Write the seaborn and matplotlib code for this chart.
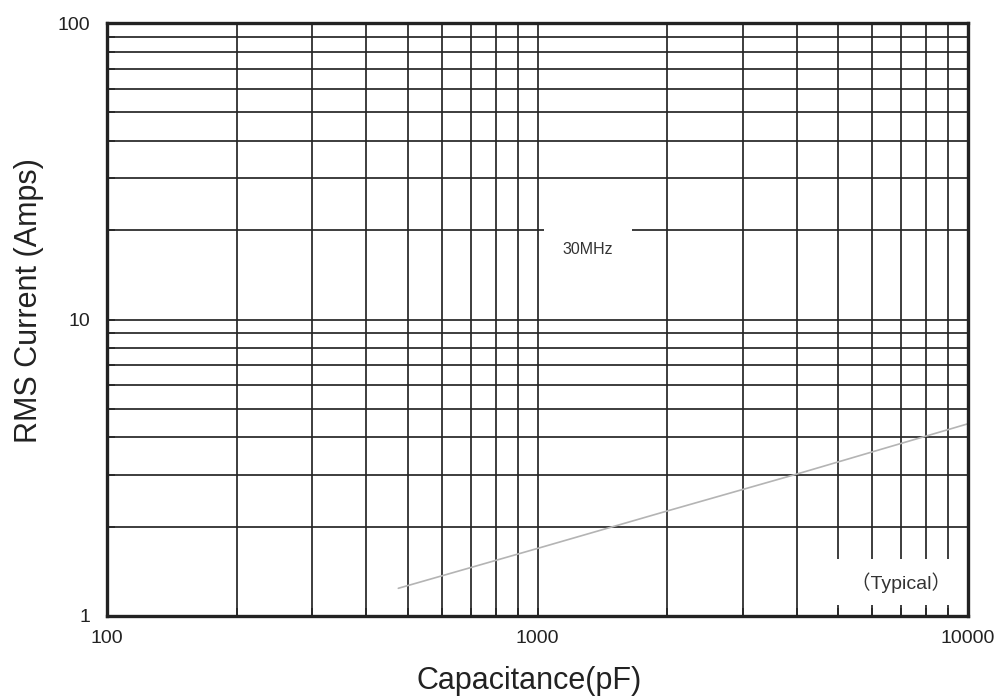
import matplotlib
matplotlib.use("Agg")
import matplotlib.pyplot as plt
import seaborn as sns
import pandas as pd
from matplotlib.ticker import LogLocator, FixedFormatter, FixedLocator, NullFormatter

# ---- data ----
capacitance_pf = [475, 1000, 2000, 4000, 10000]
rms_current_a = [1.24, 1.69, 2.26, 3.01, 4.45]
x_tick_values = [100, 1000, 10000]
x_tick_labels = ["100", "1000", "10000"]
y_tick_values = [1, 10, 100]
y_tick_labels = ["1", "10", "100"]
freq_label = "30MHz"
freq_label_pos = (1310, 17.2)
note_label = "（Typical）"
note_label_pos = (7000, 1.30)

sns.set_theme(style="white")
plt.rcParams['font.family'] = ['Liberation Sans', 'Noto Sans CJK SC', 'DejaVu Sans']

df = pd.DataFrame({"C": capacitance_pf, "I": rms_current_a})

fig = plt.figure(figsize=(10.01, 7.0), dpi=100)
ax = fig.add_axes([107/1001, 1 - 616/700, (968-107)/1001, (616-23)/700])

ax.set_xscale("log")
ax.set_yscale("log")
ax.set_xlim(100, 10000)
ax.set_ylim(1, 100)

sns.lineplot(data=df, x="C", y="I", ax=ax, color="#b4b4b4", linewidth=1.2, zorder=2)

ax.xaxis.set_major_locator(FixedLocator(x_tick_values))
ax.xaxis.set_major_formatter(FixedFormatter(x_tick_labels))
ax.yaxis.set_major_locator(FixedLocator(y_tick_values))
ax.yaxis.set_major_formatter(FixedFormatter(y_tick_labels))
ax.xaxis.set_minor_locator(LogLocator(base=10, subs=range(2, 10)))
ax.yaxis.set_minor_locator(LogLocator(base=10, subs=range(2, 10)))
ax.xaxis.set_minor_formatter(NullFormatter())
ax.yaxis.set_minor_formatter(NullFormatter())

ax.set_axisbelow(True)
ax.grid(which="both", color="#262626", linewidth=1.25)
ax.tick_params(which="both", direction="in", length=6, width=1.2, color="#262626",
               bottom=True, left=True, top=False, right=False)
ax.tick_params(axis="x", which="major", labelsize=14, pad=10, labelcolor="#222222")
ax.tick_params(axis="y", which="major", labelsize=14, pad=12, labelcolor="#222222")

for s in ax.spines.values():
    s.set_color("#222222")
    s.set_linewidth(2.4)
    s.set_visible(True)

ax.set_xlabel("Capacitance(pF)", fontsize=22, color="#222222")
ax.set_ylabel("RMS Current (Amps)", fontsize=22, color="#222222")
ax.xaxis.set_label_coords((529 - 107) / 861, (616 - 666) / 593)
ax.yaxis.set_label_coords((44 - 107) / 861, (616 - 301) / 593)

ax.text(freq_label_pos[0], freq_label_pos[1], freq_label, fontsize=11.5, color="#333333",
        ha="center", va="center", zorder=2.2,
        bbox=dict(boxstyle="square,pad=1.2", facecolor="white", edgecolor="none"))
ax.text(note_label_pos[0], note_label_pos[1], "   " + note_label + "   ", fontsize=14,
        color="#333333", ha="center", va="center", zorder=2.2,
        bbox=dict(boxstyle="square,pad=0.65", facecolor="white", edgecolor="none"))

fig.savefig("out.png", dpi=100)
